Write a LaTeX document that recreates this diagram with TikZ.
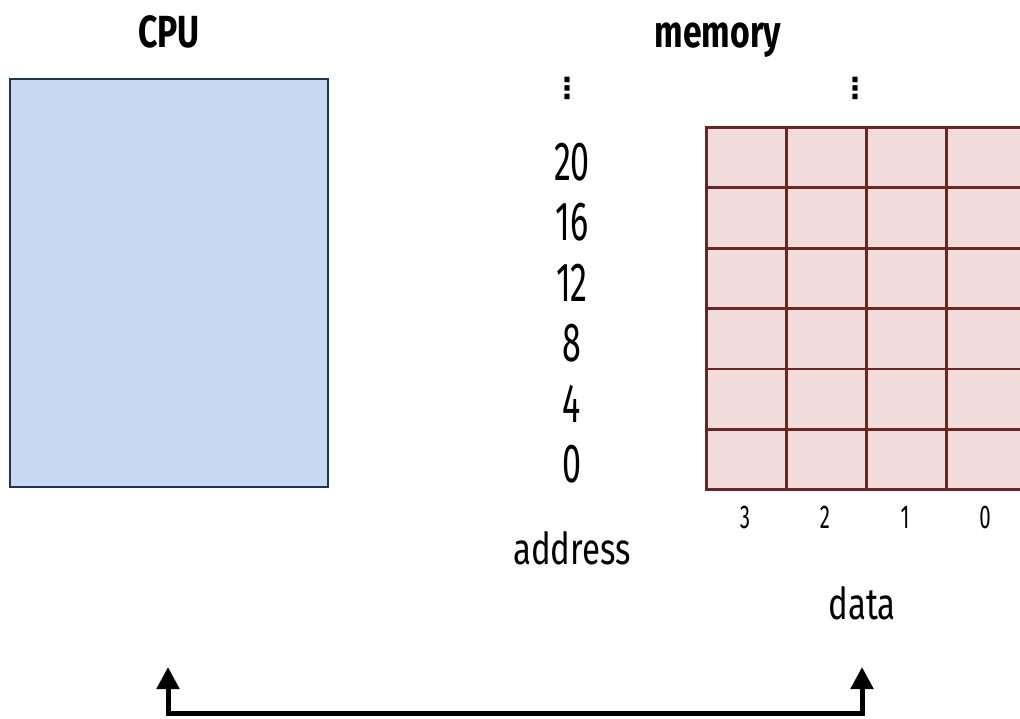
\documentclass[tikz,border=0pt]{standalone}
\usepackage{fontspec}
\setmainfont{Fira Sans}[FakeStretch=0.62]
\newfontfamily\widefont{Fira Sans}[FakeStretch=0.75]
\newfontfamily\symfont{DejaVu Sans}
\usetikzlibrary{arrows.meta}
\definecolor{cpufill}{HTML}{C6D9F0}
\definecolor{cpuline}{HTML}{1F3550}
\definecolor{memfill}{HTML}{F2DCDB}
\definecolor{memline}{HTML}{6B2525}
\tikzset{
  title/.style={font=\widefont\fontsize{45}{45}\selectfont\bfseries, anchor=base},
  addr/.style={font=\fontsize{55}{55}\selectfont},
  lbl/.style={font=\widefont\fontsize{44}{44}\selectfont},
  bit/.style={font=\fontsize{33}{33}\selectfont},
  dots/.style={font=\symfont\fontsize{29}{29}\selectfont\bfseries, inner sep=0pt},
  cell/.style={draw=memline, fill=memfill, line width=2.8pt},
  bus/.style={line width=5pt, {Triangle[length=22pt,width=22pt]}-{Triangle[length=22pt,width=22pt]}},
}
\begin{document}
\begin{tikzpicture}[x=1pt,y=-1pt]
\useasboundingbox (0,0) rectangle (1020,719);
% processor block
\node[draw=cpuline, fill=cpufill, line width=2.5pt, minimum width=318pt, minimum height=408pt, inner sep=0pt] (cpu) at (169,283) {};
\node[title] (cputitle) at (169,48) {CPU};
\node[title] (memtitle) at (718,48) {memory};
% memory cells: 6 words of 4 bytes
\foreach \r in {0,...,5}{
  \foreach \c in {0,...,3}{
    \node[cell, minimum width=80pt, minimum height=60.4pt, inner sep=0pt, anchor=north west] (m\r\c) at (705+80*\c, 126+60.4*\r) {};
  }
}
% addresses
\foreach \a [count=\i from 0] in {20,16,12,8,4,0}{
  \node[addr] (a\i) at (572, 162+60.4*\i) {\a};
}
\node[dots] (dotsA) at (567,88) {⋮};
\node[dots] (dotsD) at (855,88) {⋮};
% byte numbers
\foreach \b [count=\i from 0] in {3,2,1,0}{
  \node[bit] (b\i) at (745+80*\i, 517) {\b};
}
\node[lbl] (address) at (572,548) {address};
\node[lbl] (data) at (862,603) {data};
% bus between CPU and memory
\coordinate (cpuport) at (168,667);
\coordinate (memport) at (862,667);
\coordinate (busL) at (168,713);
\coordinate (busR) at (862,713);
\draw[bus] (cpuport) -- (busL) -- (busR) -- (memport);
\end{tikzpicture}
\end{document}
